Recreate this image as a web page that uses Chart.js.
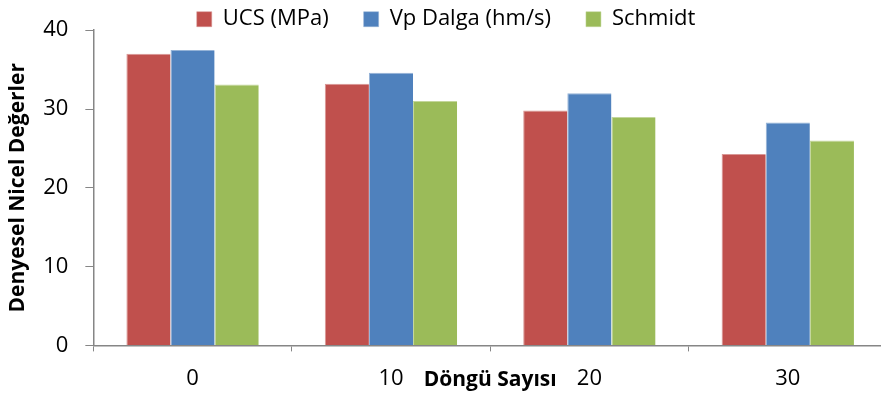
<!DOCTYPE html>
<html>
<head>
<meta charset="utf-8">
<script src="https://cdn.jsdelivr.net/npm/chart.js@4"></script>
<style>
  body { margin: 0; overflow: hidden; background: #fff; }
</style>
</head>
<body>
<canvas id="chart" width="890" height="399"></canvas>
<script>
// chart data
const cycles = ["0", "10", "20", "30"];
const ucs = [37.0, 33.2, 29.8, 24.3];
const vpDalga = [37.5, 34.6, 32.0, 28.3];
const schmidt = [33.1, 31.0, 29.0, 26.0];
const yTicks = [0, 10, 20, 30, 40];

const axisGrey = '#868686';
const fontFamily = '"Open Sans", sans-serif';

const ctx = document.getElementById("chart").getContext("2d");

const chart = new Chart(ctx, {
    type: 'bar',
    data: {
        labels: cycles,
        datasets: [
            { label: 'UCS (MPa)', data: ucs, backgroundColor: '#C0504D', borderColor: '#D99795', borderWidth: { top: 1, left: 1 } },
            { label: 'Vp Dalga (hm/s)', data: vpDalga, backgroundColor: '#4F81BD', borderColor: '#95B3D7', borderWidth: { top: 1, left: 1 } },
            { label: 'Schmidt', data: schmidt, backgroundColor: '#9BBB59', borderColor: '#C3D69B', borderWidth: { top: 1, left: 1 } }
        ]
    },
    options: {
        responsive: false,
        animation: false,
        categoryPercentage: 0.667,
        barPercentage: 1.0,
        layout: { padding: { top: -30, right: 3, left: 5, bottom: 0 } },
        plugins: {
            legend: {
                position: 'top',
                labels: {
                    boxWidth: 15,
                    boxHeight: 15,
                    padding: 35,
                    color: '#000',
                    font: { family: fontFamily, size: 22 }
                }
            },
            tooltip: { enabled: false }
        },
        scales: {
            x: {
                grid: { display: true, drawOnChartArea: false, drawTicks: true, tickLength: 6, color: axisGrey, offset: true },
                border: { display: true, color: axisGrey, width: 1.5 },
                ticks: { color: '#000', padding: 14, font: { family: fontFamily, size: 22 } },
                title: {
                    display: true,
                    text: 'Döngü Sayısı',
                    color: '#000',
                    padding: { top: -38, bottom: 6 },
                    font: { family: fontFamily, size: 21, weight: 'bold' }
                }
            },
            y: {
                min: 0,
                max: 40,
                afterBuildTicks: axis => { axis.ticks = yTicks.map(v => ({ value: v })); },
                grid: { display: true, drawOnChartArea: false, drawTicks: true, tickLength: 8, color: axisGrey },
                border: { display: true, color: axisGrey, width: 1.5 },
                ticks: { color: '#000', padding: 17, font: { family: fontFamily, size: 22 } },
                title: {
                    display: true,
                    text: 'Denyesel Nicel Değerler',
                    color: '#000',
                    padding: { top: 0, bottom: -4 },
                    font: { family: fontFamily, size: 21, weight: 'bold' }
                }
            }
        }
    }
});

// legend adds a fixed 10px under the items; drop it so the plot starts higher
const legendFit = chart.legend.fit;
chart.legend.fit = function () {
    legendFit.call(this);
    this.height -= 10;
};
chart.update();
</script>
</body>
</html>
